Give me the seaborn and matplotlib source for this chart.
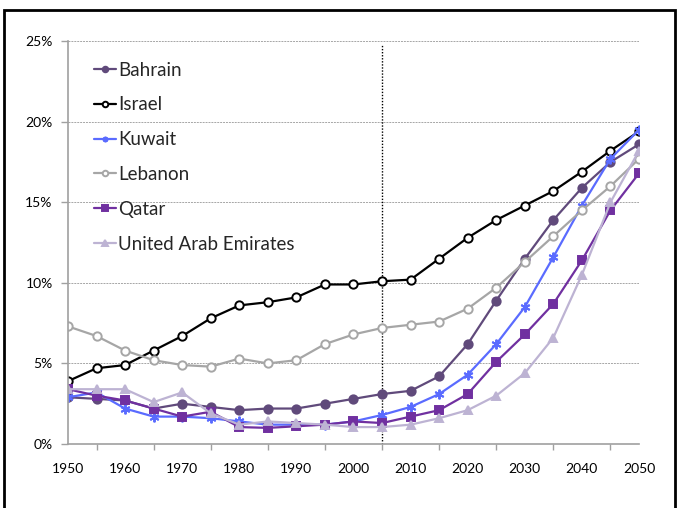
import matplotlib
matplotlib.use("Agg")
import matplotlib.pyplot as plt
from matplotlib.patches import Rectangle
from matplotlib.ticker import FuncFormatter, MultipleLocator
import seaborn as sns
import pandas as pd

years = [1950, 1955, 1960, 1965, 1970, 1975, 1980, 1985, 1990, 1995, 2000,
         2005, 2010, 2015, 2020, 2025, 2030, 2035, 2040, 2045, 2050]

bahrain = [2.9, 2.8, 2.7, 2.2, 2.5, 2.3, 2.1, 2.2, 2.2, 2.5, 2.8,
           3.1, 3.3, 4.2, 6.2, 8.9, 11.5, 13.9, 15.9, 17.5, 18.6]
israel = [3.9, 4.7, 4.9, 5.8, 6.7, 7.8, 8.6, 8.8, 9.1, 9.9, 9.9,
          10.1, 10.2, 11.5, 12.8, 13.9, 14.8, 15.7, 16.9, 18.2, 19.4]
kuwait = [2.9, 3.2, 2.2, 1.7, 1.7, 1.6, 1.4, 1.2, 1.2, 1.2, 1.4,
          1.8, 2.3, 3.1, 4.3, 6.2, 8.5, 11.6, 14.8, 17.7, 19.5]
lebanon = [7.3, 6.7, 5.8, 5.2, 4.9, 4.8, 5.3, 5.0, 5.2, 6.2, 6.8,
           7.2, 7.4, 7.6, 8.4, 9.7, 11.3, 12.9, 14.5, 16.0, 17.7]
qatar = [3.4, 3.0, 2.7, 2.2, 1.7, 2.0, 1.05, 1.0, 1.1, 1.2, 1.4,
         1.3, 1.7, 2.1, 3.1, 5.1, 6.8, 8.7, 11.4, 14.5, 16.8]
uae = [3.4, 3.4, 3.4, 2.6, 3.2, 1.9, 1.2, 1.4, 1.3, 1.2, 1.05,
       1.05, 1.2, 1.6, 2.1, 3.0, 4.4, 6.6, 10.5, 15.0, 18.2]

countries = ["Bahrain", "Israel", "Kuwait", "Lebanon", "Qatar", "United Arab Emirates"]
series = [bahrain, israel, kuwait, lebanon, qatar, uae]

# line style per country: colour, marker, marker face
styles = {
    "Bahrain": dict(color="#604A7B", marker="o", mfc="#604A7B", ms=6),
    "Israel": dict(color="#000000", marker="o", mfc="white", ms=6),
    "Kuwait": dict(color="#5A6BFF", marker=(6, 2, 0), mfc="#5A6BFF", ms=7),
    "Lebanon": dict(color="#A6A6A6", marker="o", mfc="white", ms=6),
    "Qatar": dict(color="#7030A0", marker="s", mfc="#7030A0", ms=6),
    "United Arab Emirates": dict(color="#BDB3D3", marker="^", mfc="#BDB3D3", ms=6),
}

df = pd.DataFrame(
    [(c, y, v) for c, vals in zip(countries, series) for y, v in zip(years, vals)],
    columns=["country", "year", "share"],
)

sns.set_theme(style="white")
plt.rcParams["font.family"] = ["Lato", "DejaVu Sans"]

fig = plt.figure(figsize=(6.77, 5.08), dpi=100)
ax = fig.add_axes([0.1004, 0.126, 0.8435, 0.793])

for c in countries:
    st = styles[c]
    sns.lineplot(
        data=df[df["country"] == c], x="year", y="share", ax=ax,
        color=st["color"], marker=st["marker"], markersize=st["ms"],
        markerfacecolor=st["mfc"], markeredgecolor=st["color"],
        markeredgewidth=1.4, linewidth=1.6, label=c,
    )

ax.axvline(2005, color="black", linestyle=(0, (1, 1.2)), linewidth=1.0, ymax=0.99, zorder=1)

ax.set_xlim(1950, 2050)
ax.set_ylim(0, 25)
ax.xaxis.set_major_locator(MultipleLocator(10))
ax.xaxis.set_minor_locator(MultipleLocator(5))
ax.yaxis.set_major_locator(MultipleLocator(5))
ax.yaxis.set_major_formatter(FuncFormatter(lambda v, p: f"{v:.0f}%"))
ax.set_xlabel("")
ax.set_ylabel("")

for v in [5, 10, 15, 20, 25]:
    ax.axhline(v, color="#A6A6A6", linestyle=(0, (2, 1)), linewidth=0.7, zorder=0)

for s in ["top", "right"]:
    ax.spines[s].set_visible(False)
for s in ["left", "bottom"]:
    ax.spines[s].set_color("#A0A0A0")
    ax.spines[s].set_linewidth(1.2)

ax.tick_params(axis="x", which="major", direction="inout", length=9, width=1,
               color="#A0A0A0", labelsize=10, pad=9, labelcolor="black")
ax.tick_params(axis="x", which="minor", direction="out", length=4, width=1,
               color="#A0A0A0", bottom=True)
ax.tick_params(axis="y", which="major", direction="out", length=5, width=1,
               color="#A0A0A0", labelsize=10, pad=6, labelcolor="black", left=True)

leg = ax.legend(loc="upper left", bbox_to_anchor=(0.033, 0.968), frameon=False,
                fontsize=13.5, handlelength=1.15, handletextpad=0.1,
                labelspacing=0.95, borderaxespad=0)
for h in leg.legend_handles:
    h.set_markersize(4)

fig.patches.append(Rectangle((4 / 677, -0.05), 671 / 677, 1.05 - 10 / 508,
                             transform=fig.transFigure, fill=False,
                             edgecolor="black", linewidth=2))

fig.savefig("out.png", dpi=100)
